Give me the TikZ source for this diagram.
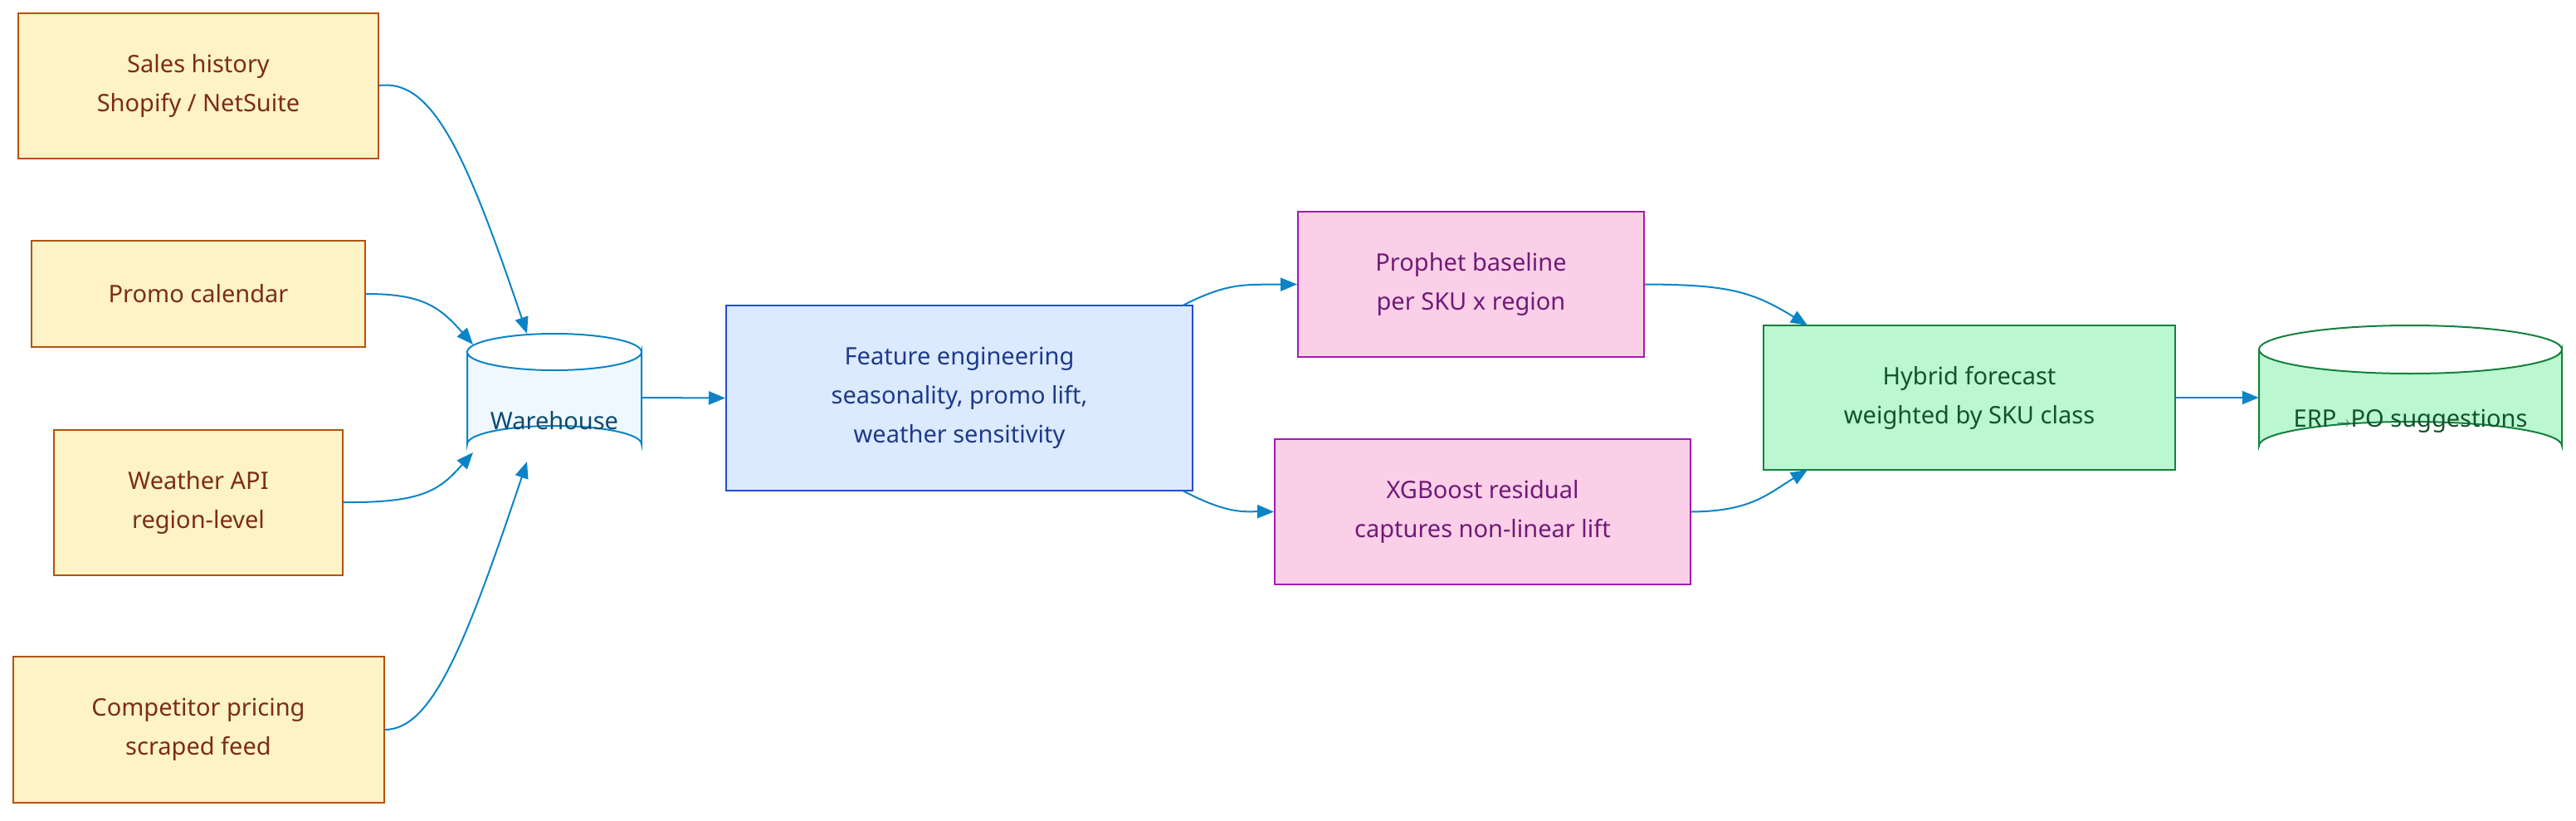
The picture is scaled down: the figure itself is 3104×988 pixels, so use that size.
\documentclass[tikz,border=0pt]{standalone}
\usepackage{fontspec}
\setmainfont{Noto Sans}
\usetikzlibrary{arrows.meta}
\definecolor{arr}{HTML}{0B84C6}
\definecolor{yf}{HTML}{FEF3C7}\definecolor{yd}{HTML}{B45309}\definecolor{yt}{HTML}{7C2D12}
\definecolor{bf}{HTML}{DBEAFE}\definecolor{bd}{HTML}{1D4ED8}\definecolor{bt}{HTML}{1E3A8A}
\definecolor{wf}{HTML}{F0F8FF}\definecolor{wd}{HTML}{0B84C6}\definecolor{wt}{HTML}{0C4A6E}
\definecolor{pf}{HTML}{FBCFE8}\definecolor{pd}{HTML}{A21CAF}\definecolor{pt}{HTML}{701A75}
\definecolor{gf}{HTML}{BBF7D0}\definecolor{gd}{HTML}{15803D}\definecolor{gt}{HTML}{14532D}
\begin{document}
\begin{tikzpicture}[x=1pt,y=-1pt,
  lbl/.style={align=center,font=\fontsize{29}{47}\selectfont},
  box/.style={draw,line width=2pt,lbl,inner sep=0pt},
  con/.style={draw=arr,line width=2pt,-{Triangle[length=20pt,width=16pt]}}]
\useasboundingbox (0,0) rectangle (3104,988);
\newcommand{\bx}[7]{\node[box,fill=#5,draw=#6,text=#7,minimum width=#3-#1,minimum height=#4-#2] (#2n) at ({(#1+#3)/2},{(#2+#4)/2}) {};}
\node[box,fill=yf,draw=yd,text=yt,minimum width=434,minimum height=175] (s) at (239,103) {Sales history\\Shopify / NetSuite};
\node[box,fill=yf,draw=yd,text=yt,minimum width=402,minimum height=128] (p) at (239,354) {Promo calendar};
\node[box,fill=yf,draw=yd,text=yt,minimum width=348,minimum height=175] (w) at (239,605) {Weather API\\region-level};
\node[box,fill=yf,draw=yd,text=yt,minimum width=447,minimum height=176] (c) at (239,879) {Competitor pricing\\scraped feed};
% warehouse cylinder
\draw[fill=wf,draw=wd,line width=2pt] (563,424) -- (563,535) arc[start angle=180,end angle=360,x radius=105,y radius=22] -- (773,424) arc[start angle=0,end angle=180,x radius=105,y radius=22];
\draw[draw=wd,line width=2pt] (563,424) arc[start angle=180,end angle=360,x radius=105,y radius=22];
\node[lbl,text=wt,minimum width=210,minimum height=156,inner sep=0pt] (h) at (668,479) {};
\node[lbl,text=wt] at (668,507) {Warehouse};
\coordinate (htop) at (635,402);
\coordinate (hbot) at (635,556);
\coordinate (hul) at (570,415);
\coordinate (hll) at (570,545);
\node[box,fill=bf,draw=bd,text=bt,minimum width=562,minimum height=223] (f) at (1156,479.5) {Feature engineering\\seasonality, promo lift,\\weather sensitivity};
\node[box,fill=pf,draw=pd,text=pt,minimum width=417,minimum height=175] (pr) at (1772.5,342.5) {Prophet baseline\\per SKU x region};
\node[box,fill=pf,draw=pd,text=pt,minimum width=501,minimum height=175] (xg) at (1786.5,616.5) {XGBoost residual\\captures non-linear lift};
\node[box,fill=gf,draw=gd,text=gt,minimum width=496,minimum height=174] (hy) at (2373,479) {Hybrid forecast\\weighted by SKU class};
% ERP cylinder
\draw[fill=gf,draw=gd,line width=2pt] (2722,421) -- (2722,537) arc[start angle=180,end angle=360,x radius=182.5,y radius=29] -- (3087,421) arc[start angle=0,end angle=180,x radius=182.5,y radius=29];
\draw[draw=gd,line width=2pt] (2722,421) arc[start angle=180,end angle=360,x radius=182.5,y radius=29];
\node[lbl,minimum width=365,minimum height=174,inner sep=0pt] (e) at (2904.5,479) {};
\node[lbl,text=gt] at (2904.5,507) {ERP{\fontsize{16}{16}\selectfont$\rightarrow$}PO suggestions};
% connectors
\draw[con] (s.east) .. controls (520,95) and (560,180) .. (htop);
\draw[con] (p.east) .. controls (510,354) and (530,370) .. (hul);
\draw[con] (w.east) .. controls (510,606) and (530,590) .. (hll);
\draw[con] (c.east) .. controls (520,879) and (560,780) .. (hbot);
\draw[con] (h.east) -- (f.west);
\coordinate (f1) at (1425,368); \coordinate (f2) at (1425,591);
\draw[con] (f1) .. controls (1480,340) and (1500,343) .. (pr.west);
\draw[con] (f2) .. controls (1480,620) and (1500,616) .. (xg.west);
\coordinate (hy1) at (2178,392); \coordinate (hy2) at (2178,566);
\draw[con] (pr.east) .. controls (2080,343) and (2110,350) .. (hy1);
\draw[con] (xg.east) .. controls (2110,616) and (2130,595) .. (hy2);
\draw[con] (hy.east) -- (e.west);
\end{tikzpicture}
\end{document}
